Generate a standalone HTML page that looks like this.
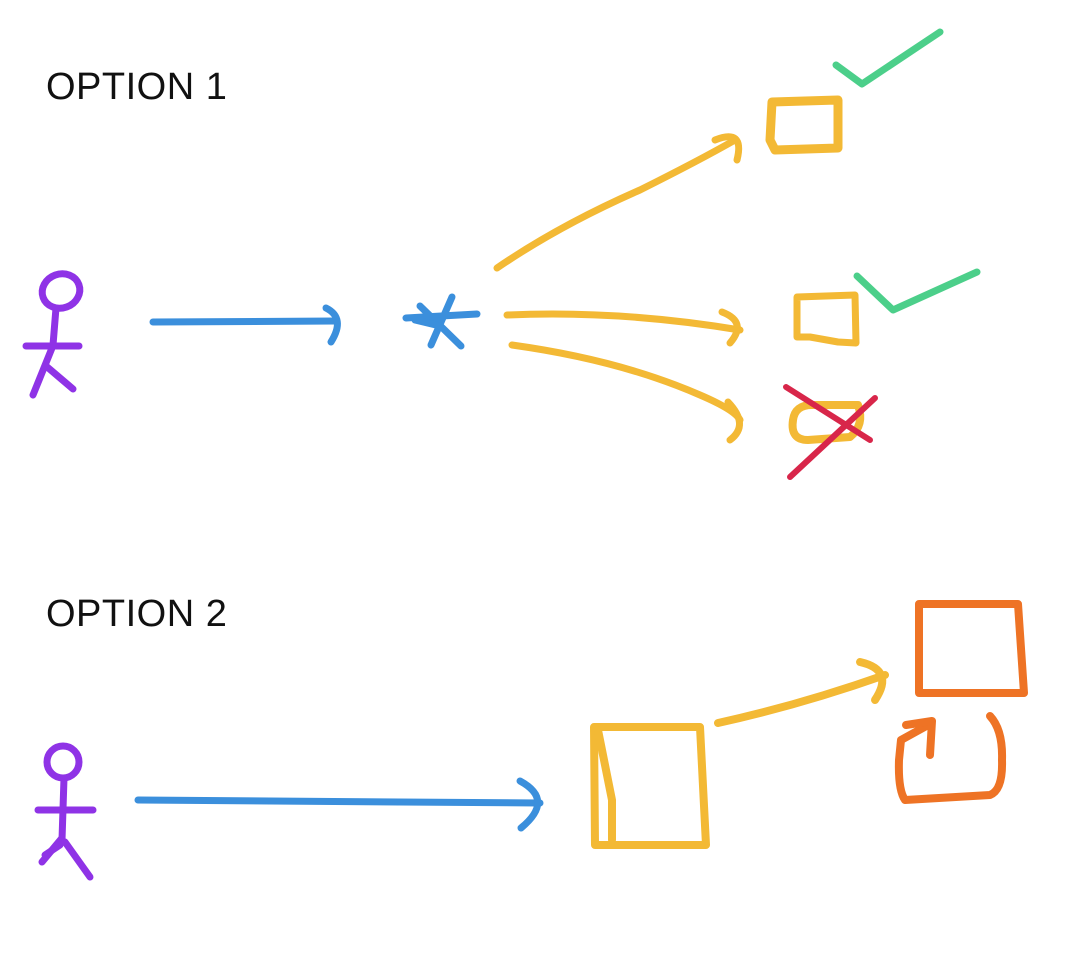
<!DOCTYPE html>
<html><head><style>html,body{margin:0;padding:0;background:#fff;width:1084px;height:972px;overflow:hidden}</style></head>
<body>
<svg width="1084" height="972" viewBox="0 0 1084 972" xmlns="http://www.w3.org/2000/svg" fill="none" stroke-linecap="round" stroke-linejoin="round">
<text x="46" y="99" font-family="Liberation Sans, sans-serif" font-size="38" letter-spacing="0.5" fill="#111" stroke="none">OPTION 1</text>
<text x="46" y="626" font-family="Liberation Sans, sans-serif" font-size="38" letter-spacing="0.5" fill="#111" stroke="none">OPTION 2</text>
<!-- stick 1 -->
<g stroke="#8f33e6" stroke-width="7">
<ellipse cx="61" cy="291" rx="19" ry="17" transform="rotate(-20 61 291)"/>
<path d="M56 308 L53 345"/>
<path d="M26 346 L79 346"/>
<path d="M52 348 L33 395"/>
<path d="M46 366 L73 389"/>
</g>
<!-- blue arrow 1 -->
<g stroke="#3b8fdc" stroke-width="7">
<path d="M153 322 L336 321"/>
<path d="M326 308 Q346 318 331 342"/>
<path d="M406 318 L477 314"/>
<path d="M431 345 L452 297"/>
<path d="M420 306 L461 346"/>
<path d="M415 320 L440 326"/>
</g>
<!-- yellow arrows -->
<g stroke="#f3b935" stroke-width="7">
<path d="M497 268 Q560 225 640 190 Q700 160 735 140"/>
<path d="M715 140 Q745 128 737 160"/>
<path d="M507 315 Q620 310 740 330"/>
<path d="M722 312 Q748 322 730 343"/>
<path d="M512 345 Q620 360 700 395 Q735 410 740 420"/>
<path d="M728 402 Q750 425 730 440"/>
<path d="M772 102 L838 100 L838 148 L775 150 L770 140 Z" stroke-width="9"/>
<path d="M797 297 L855 295 L856 343 L838 342 L810 337 L797 337 Z"/>
<path d="M812 405 L858 405 Q865 425 850 437 L808 440 Q790 440 793 420 Q795 405 812 405 Z" stroke-width="8"/>
</g>
<g stroke="#4ccf8a" stroke-width="7">
<path d="M836 65 L862 84 L940 32"/>
<path d="M857 276 L893 310 L977 272"/>
</g>
<g stroke="#d8264a" stroke-width="6">
<path d="M786 387 L870 440"/>
<path d="M790 477 L875 398"/>
</g>
<!-- stick 2 -->
<g stroke="#8f33e6" stroke-width="7">
<ellipse cx="63" cy="762" rx="16" ry="16"/>
<path d="M64 778 L62 840"/>
<path d="M38 810 L93 810"/>
<path d="M62 838 L42 862"/>
<path d="M45 855 L60 845"/>
<path d="M65 842 L90 877"/>
</g>
<g stroke="#3b8fdc" stroke-width="7">
<path d="M138 800 L540 803"/>
<path d="M520 781 Q555 800 521 828"/>
</g>
<g stroke="#f3b935" stroke-width="8">
<path d="M594 727 L700 727 L706 845 L595 845 Z"/>
<path d="M598 730 L612 800 L612 840"/>
<path d="M718 723 Q800 705 885 675"/>
<path d="M860 662 Q895 670 875 700"/>
</g>
<g stroke="#ee7325" stroke-width="8">
<path d="M919 604 L1018 604 L1024 693 L919 693 Z"/>
<path d="M990 716 Q1003 730 1002 760 Q1003 790 990 795 L905 800 Q898 790 899 760 L901 740 L930 724"/>
<path d="M906 725 L932 721 L930 755"/>
</g>
</svg>
</body></html>
